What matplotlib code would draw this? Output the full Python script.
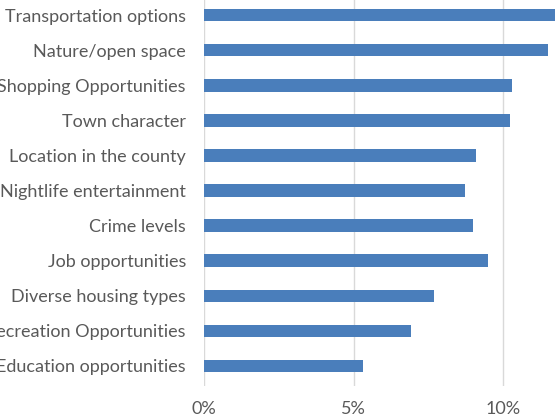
import matplotlib
matplotlib.use("Agg")
import matplotlib.pyplot as plt
from matplotlib.ticker import FuncFormatter

categories = [
    "Transportation options",
    "Nature/open space",
    "Shopping Opportunities",
    "Town character",
    "Location in the county",
    "Nightlife entertainment",
    "Crime levels",
    "Job opportunities",
    "Diverse housing types",
    "Recreation Opportunities",
    "Education opportunities",
]
values = [12.0, 11.49, 10.31, 10.24, 9.11, 8.72, 9.0, 9.49, 7.68, 6.92, 5.33]
xticks = [0, 5, 10]

W, H = 555, 420
fig = plt.figure(figsize=(W / 100, H / 100), dpi=100)
left = 204 / W
bottom = (H - 386) / H
ax = fig.add_axes([left, bottom, 1 - left, 1 - bottom])

n = len(categories)
ypos = [n - 1 - i for i in range(n)]
ax.barh(ypos, values, height=0.36, color="#4a7ebb", zorder=3)
ax.set_xlim(0, (W - 204) / 29.9)
ax.set_ylim(-0.57, n - 1 + 0.43)

ax.set_xticks(xticks)
ax.xaxis.set_major_formatter(FuncFormatter(lambda v, p: f"{v:.0f}%"))
ax.set_yticks(ypos)
ax.set_yticklabels(categories)
ax.grid(axis="x", color="#d9d9d9", linewidth=1.0, zorder=0)
for s in ax.spines.values():
    s.set_visible(False)
ax.tick_params(axis="both", length=0, colors="#595959", labelsize=13)
ax.tick_params(axis="y", pad=13)
ax.tick_params(axis="x", pad=11)
for lab in ax.get_xticklabels() + ax.get_yticklabels():
    lab.set_family("Lato")
    lab.set_color("#595959")

fig.savefig("out.png", dpi=100)
